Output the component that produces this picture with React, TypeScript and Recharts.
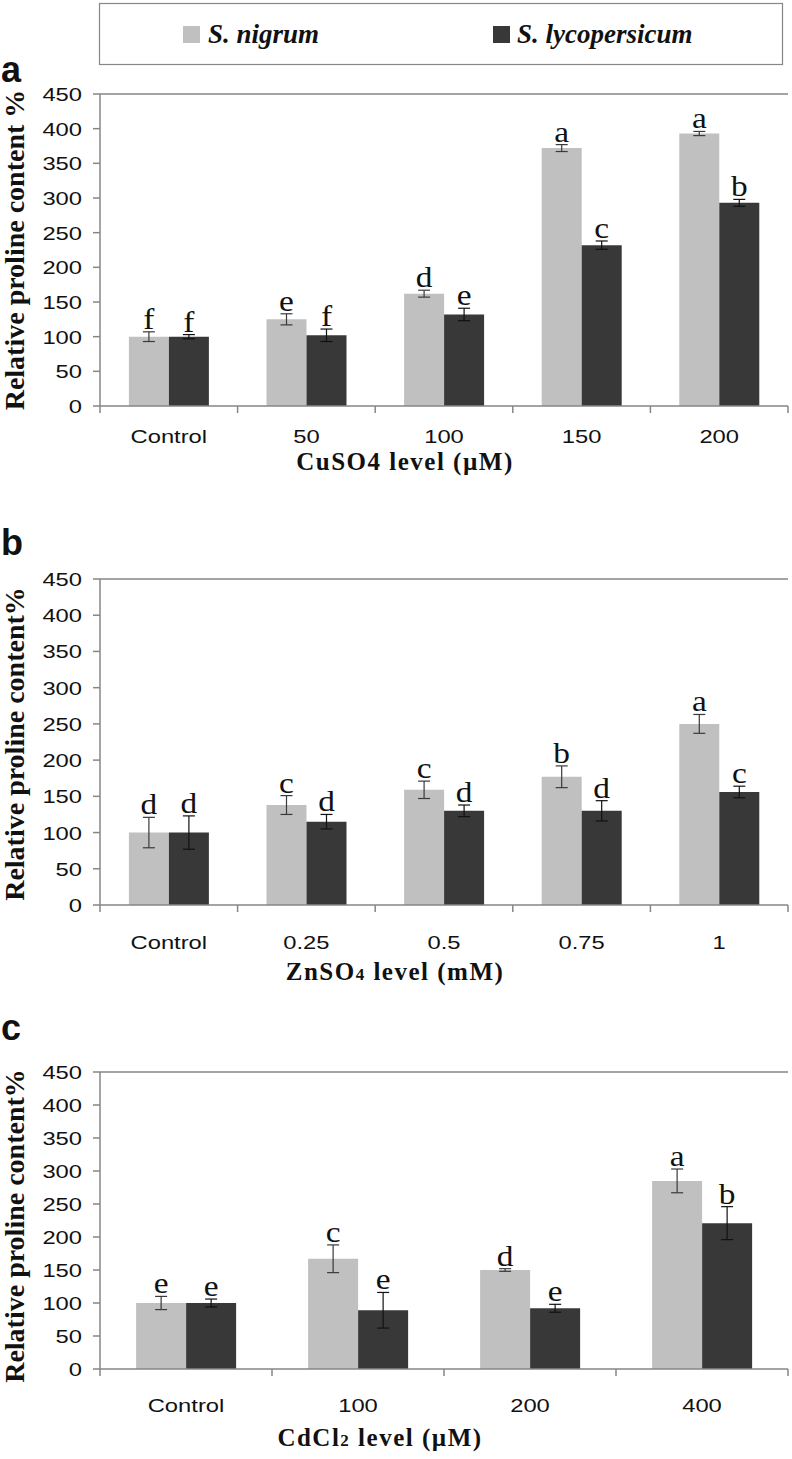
import { BarChart, Bar, XAxis, YAxis, ErrorBar, LabelList, ReferenceLine } from "recharts";

// panel a: CuSO4
const cuLevels = ["Control", "50", "100", "150", "200"];
const cuNigrum = [100, 125, 162, 372, 393];
const cuNigrumErr = [7, 8, 5, 5, 3];
const cuNigrumLetters = ["f", "e", "d", "a", "a"];
const cuLyco = [100, 102, 132, 232, 293];
const cuLycoErr = [3, 9, 9, 6, 5];
const cuLycoLetters = ["f", "f", "e", "c", "b"];

// panel b: ZnSO4
const znLevels = ["Control", "0.25", "0.5", "0.75", "1"];
const znNigrum = [100, 138, 159, 177, 250];
const znNigrumErr = [21, 13, 12, 15, 13];
const znNigrumLetters = ["d", "c", "c", "b", "a"];
const znLyco = [100, 115, 130, 130, 156];
const znLycoErr = [23, 10, 8, 14, 8];
const znLycoLetters = ["d", "d", "d", "d", "c"];

// panel c: CdCl2
const cdLevels = ["Control", "100", "200", "400"];
const cdNigrum = [100, 167, 150, 285];
const cdNigrumErr = [10, 21, 2, 18];
const cdNigrumLetters = ["e", "c", "d", "a"];
const cdLyco = [100, 89, 92, 221];
const cdLycoErr = [6, 27, 6, 25];
const cdLycoLetters = ["e", "e", "e", "b"];

const yTicks = [0, 50, 100, 150, 200, 250, 300, 350, 400, 450];

const LIGHT = "#c0c0c0";
const DARK = "#383838";
const AXIS = "#868686";
const SANS = "'Liberation Sans', Arial, sans-serif";
const SERIF = "'Liberation Serif', 'Times New Roman', serif";
const PLOT_W = 688;

type PanelProps = {
  top: number;
  plotH: number;
  levels: string[];
  nigrum: number[];
  nigrumErr: number[];
  nigrumLetters: string[];
  lyco: number[];
  lycoErr: number[];
  lycoLetters: string[];
  tickBase: number;
};

function Panel(p: PanelProps) {
  const data = p.levels.map((level, i) => ({
    level,
    n: p.nigrum[i],
    nErr: p.nigrumErr[i],
    nL: p.nigrumLetters[i],
    l: p.lyco[i],
    lErr: p.lycoErr[i],
    lL: p.lycoLetters[i],
  }));
  const half = PLOT_W / p.levels.length / 2;

  // significance letter sits just above the error bar cap
  const letter = (values: number[], errs: number[], letters: string[]) => (props: any) => {
    const vb = props.viewBox ?? props;
    const x = props.x ?? vb.x;
    const y = props.y ?? vb.y;
    const width = props.width ?? vb.width;
    const height = props.height ?? vb.height;
    const i = props.index;
    const errPx = (errs[i] * height) / values[i];
    return (
      <text
        transform={`translate(${x + width / 2},${y - errPx - 3}) scale(1.15,1)`}
        textAnchor="middle"
        fontFamily={SERIF}
        fontSize={29}
        fill="#111"
      >
        {letters[i]}
      </text>
    );
  };

  const XTick = (props: any) => {
    const { x, y, payload, index } = props;
    const off = payload.offset || half;
    return (
      <g>
        <line x1={x - off} x2={x - off} y1={y} y2={y + 7} stroke={AXIS} strokeWidth={1.5} />
        {index === p.levels.length - 1 && (
          <line x1={x + off} x2={x + off} y1={y} y2={y + 7} stroke={AXIS} strokeWidth={1.5} />
        )}
        <text
          transform={`translate(${x},${y + p.tickBase}) scale(1.25,1)`}
          textAnchor="middle"
          fontFamily={SANS}
          fontSize={19}
          fill="#111"
        >
          {payload.value}
        </text>
      </g>
    );
  };

  const YTick = (props: any) => {
    const { x, y, payload } = props;
    return (
      <text
        transform={`translate(${x},${y + 7}) scale(1.25,1)`}
        textAnchor="end"
        fontFamily={SANS}
        fontSize={19}
        fill="#111"
      >
        {payload.value}
      </text>
    );
  };

  return (
    <div style={{ position: "absolute", left: 0, top: p.top }}>
      <BarChart
        width={792}
        height={10 + p.plotH + 60}
        data={data}
        margin={{ top: 10, right: 4, left: 0, bottom: 0 }}
        barCategoryGap="21%"
        barGap={0}
      >
        <XAxis
          dataKey="level"
          interval={0}
          height={60}
          tickSize={0}
          tickMargin={0}
          tickLine={false}
          axisLine={{ stroke: AXIS, strokeWidth: 1.5 }}
          tick={XTick}
        />
        <YAxis
          width={100}
          domain={[0, 450]}
          ticks={yTicks}
          interval={0}
          tickSize={7}
          tickMargin={11}
          tickLine={{ stroke: AXIS, strokeWidth: 1.5 }}
          axisLine={{ stroke: AXIS, strokeWidth: 1.5 }}
          tick={YTick}
        />
        <YAxis
          yAxisId="r"
          orientation="right"
          width={0}
          domain={[0, 450]}
          tick={false}
          tickLine={false}
          axisLine={{ stroke: AXIS, strokeWidth: 1.5 }}
        />
        <ReferenceLine y={450} stroke={AXIS} strokeWidth={1.5} />
        <Bar dataKey="n" fill={LIGHT} isAnimationActive={false}>
          <ErrorBar dataKey="nErr" width={6} stroke="#3a3a3a" strokeWidth={1.2} />
          <LabelList dataKey="nL" content={letter(p.nigrum, p.nigrumErr, p.nigrumLetters)} />
        </Bar>
        <Bar dataKey="l" fill={DARK} isAnimationActive={false}>
          <ErrorBar dataKey="lErr" width={6} stroke="#111" strokeWidth={1.2} />
          <LabelList dataKey="lL" content={letter(p.lyco, p.lycoErr, p.lycoLetters)} />
        </Bar>
      </BarChart>
    </div>
  );
}

export default function App() {
  const yTitle = (cy: number, text: string) => (
    <text
      transform={`translate(24,${cy}) rotate(-90)`}
      textAnchor="middle"
      fontFamily={SERIF}
      fontWeight="bold"
      fontSize={28}
      fill="#111"
    >
      {text}
    </text>
  );
  const xTitleProps = {
    textAnchor: "middle" as const,
    fontFamily: SERIF,
    fontWeight: "bold",
    fontSize: 25,
    letterSpacing: 1.5,
    fill: "#111",
  };
  return (
    <div
      style={{
        position: "absolute",
        left: 0,
        top: 0,
        width: 792,
        height: 1459,
        background: "#fff",
        overflow: "hidden",
      }}
    >
      <Panel
        top={84}
        plotH={312}
        levels={cuLevels}
        nigrum={cuNigrum}
        nigrumErr={cuNigrumErr}
        nigrumLetters={cuNigrumLetters}
        lyco={cuLyco}
        lycoErr={cuLycoErr}
        lycoLetters={cuLycoLetters}
        tickBase={37}
      />
      <Panel
        top={569}
        plotH={326}
        levels={znLevels}
        nigrum={znNigrum}
        nigrumErr={znNigrumErr}
        nigrumLetters={znNigrumLetters}
        lyco={znLyco}
        lycoErr={znLycoErr}
        lycoLetters={znLycoLetters}
        tickBase={44}
      />
      <Panel
        top={1062}
        plotH={297}
        levels={cdLevels}
        nigrum={cdNigrum}
        nigrumErr={cdNigrumErr}
        nigrumLetters={cdNigrumLetters}
        lyco={cdLyco}
        lycoErr={cdLycoErr}
        lycoLetters={cdLycoLetters}
        tickBase={43}
      />
      <svg
        width={792}
        height={1459}
        style={{ position: "absolute", left: 0, top: 0, pointerEvents: "none" }}
      >
        {/* legend */}
        <rect x={99.5} y={3.5} width={683} height={61} fill="none" stroke={AXIS} strokeWidth={1.2} />
        <rect x={183} y={26} width={17} height={17} fill={LIGHT} />
        <text x={208} y={43} fontFamily={SERIF} fontWeight="bold" fontStyle="italic" fontSize={27} fill="#111">
          S. nigrum
        </text>
        <rect x={493} y={26} width={17} height={17} fill={DARK} />
        <text x={517} y={43} fontFamily={SERIF} fontWeight="bold" fontStyle="italic" fontSize={27} fill="#111">
          S. lycopersicum
        </text>

        {/* panel letters */}
        <text x={1} y={82} fontFamily={SANS} fontWeight="bold" fontSize={36} fill="#111">a</text>
        <text x={1} y={555} fontFamily={SANS} fontWeight="bold" fontSize={36} fill="#111">b</text>
        <text x={1} y={1040} fontFamily={SANS} fontWeight="bold" fontSize={36} fill="#111">c</text>

        {/* y titles */}
        {yTitle(250, "Relative proline content %")}
        {yTitle(744, "Relative proline content%")}
        {yTitle(1226, "Relative proline content%")}

        {/* x titles */}
        <text x={405} y={470} {...xTitleProps}>
          CuSO4 level (µM)
        </text>
        <text x={395} y={980} {...xTitleProps}>
          ZnSO<tspan fontSize={17}>4</tspan> level (mM)
        </text>
        <text x={380} y={1446} {...xTitleProps}>
          CdCl<tspan fontSize={17}>2</tspan> level (µM)
        </text>
      </svg>
    </div>
  );
}
